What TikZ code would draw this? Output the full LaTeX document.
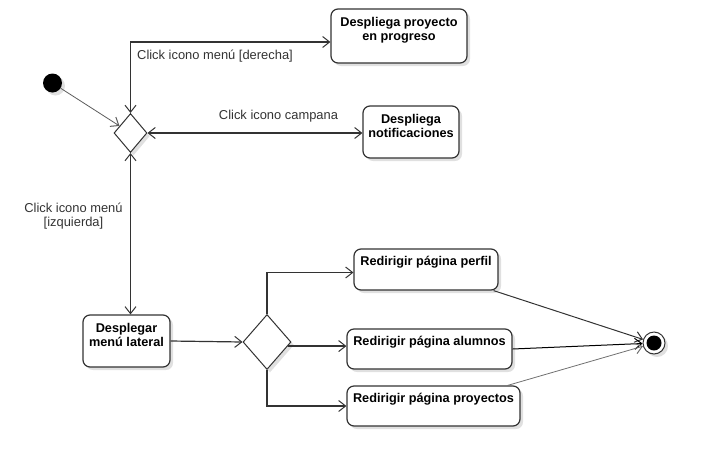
\documentclass[tikz,border=0pt]{standalone}
\usepackage{fontspec}
\setmainfont{Liberation Sans}
\usetikzlibrary{arrows.meta,shapes.geometric,shadows,calc}
\definecolor{ln}{HTML}{333333}
\tikzset{
  x=1pt, y=-1pt,
  >={Straight Barb[length=7pt,width=11pt,line width=1pt]},
  every node/.style={font=\fontsize{12.9}{13.5}\selectfont, text=black},
  shad/.style={drop shadow={shadow xshift=3pt, shadow yshift=-3pt, fill=black!12, opacity=1}},
  actbox/.style={draw=ln, line width=1.2pt, rounded corners=7pt, fill=white, shad, inner sep=0pt},
  boxtext/.style={anchor=north, align=center, font=\fontsize{12.7}{13.5}\selectfont\bfseries, inner sep=0pt, yshift=-9pt},
  decision/.style={diamond, draw=ln, line width=1pt, fill=white, shad, inner sep=0pt, aspect=0.85},
  conn/.style={draw=ln, line width=1.2pt},
  edgelbl/.style={text=ln, inner sep=1pt}
}
\begin{document}
\begin{tikzpicture}
\useasboundingbox (0,0) rectangle (708,466);
% nodes
\node[circle, fill=black, minimum size=19pt, inner sep=0pt, shad] (init) at (52.5,83) {};
\node[decision, minimum width=33pt, minimum height=39pt] (d1) at (130.5,133) {};
\node[actbox, minimum width=136pt, minimum height=54pt, label={[boxtext]north:Despliega proyecto\\en progreso}] (b1) at (399,36) {};
\node[actbox, minimum width=96pt, minimum height=52pt, label={[boxtext]north:Despliega\\notificaciones}] (b2) at (411,132) {};
\node[actbox, minimum width=87pt, minimum height=52pt, label={[boxtext]north:Desplegar\\menú lateral}] (b3) at (126.5,341) {};
\node[decision, minimum width=48pt, minimum height=55pt] (d2) at (267,342) {};
\node[actbox, minimum width=144pt, minimum height=41pt, label={[boxtext,yshift=1pt]north:Redirigir página perfil}] (p) at (426,269.5) {};
\node[actbox, minimum width=165pt, minimum height=40pt, label={[boxtext,yshift=1pt]north:Redirigir página alumnos}] (al) at (429.5,349) {};
\node[actbox, minimum width=173pt, minimum height=40pt, label={[boxtext,yshift=1pt]north:Redirigir página proyectos}] (pr) at (433.5,406) {};
\node[circle, draw=ln, line width=1pt, fill=white, minimum size=22pt, inner sep=0pt, shad,
  path picture={\fill[black] (path picture bounding box.center) circle (7.5pt);}] (fin) at (654,343) {};
% labels
\node[edgelbl, anchor=west] (l1) at (136,56) {Click icono menú [derecha]};
\node[edgelbl] (l2) at (278.5,116) {Click icono campana};
\node[edgelbl, align=center] (l3) at (73.5,216) {Click icono menú\\{[izquierda]}};
% connectors
\draw[draw=ln!80, line width=0.8pt, ->] (init) -- (d1);
\draw[conn, <->] (d1.north) |- ($(b1.west)+(0,6)$);
\draw[conn, <->] (d1.east) -- (d1.east -| b2.west);
\draw[conn, <->] (d1.south) -- (d1.south |- b3.north);
\draw[conn, ->] (b3.east) -- (d2.west);
\draw[conn, ->] (d2.north) |- ($(p.west)+(0,3)$);
\draw[conn, ->] (d2.-11) -- (d2.-11 -| al.west);
\draw[conn, ->] (d2.south) |- (pr.west);
\draw[draw=ln, line width=1pt, ->] ($(p.south east)+(-5,0)$) -- (fin);
\draw[draw=black, line width=1pt, ->] (al.east) -- (fin);
\draw[draw=ln!70, line width=0.8pt, ->] ($(pr.north east)+(-13,0)$) -- (fin);
\end{tikzpicture}
\end{document}
